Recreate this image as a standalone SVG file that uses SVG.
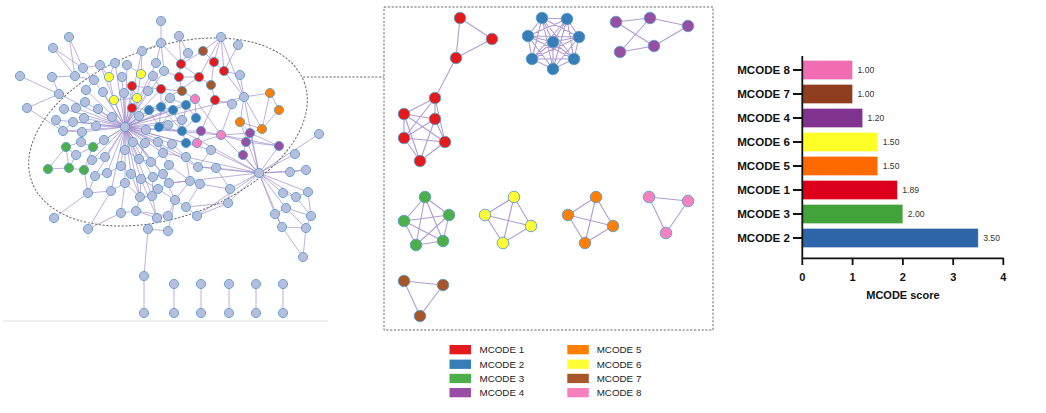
<svg xmlns="http://www.w3.org/2000/svg" width="1046" height="413" viewBox="0 0 1046 413">
<style>
.e{stroke:#9b85c6;stroke-opacity:.72;stroke-width:.9;fill:none}
.me{stroke:#a38bc9;stroke-opacity:.85;stroke-width:1.1;fill:none}
circle{stroke:#5d9fcb;stroke-width:.9}
#network-nodes circle{r:4.6px}
.g{fill:#b7bedd}.r{fill:#e41a1c}.b{fill:#377eb8}.gr{fill:#4daf4a}.p{fill:#984ea3}.o{fill:#ff7f00}.y{fill:#ffff33}.br{fill:#a65628}.pk{fill:#f781bf}
.lt{font-family:"Liberation Sans",Arial,sans-serif;font-size:9.8px;fill:#222}
.yl{font-family:"Liberation Sans",Arial,sans-serif;font-size:11.6px;font-weight:bold;fill:#111;text-anchor:end}
.vl{font-family:"Liberation Sans",Arial,sans-serif;font-size:8.6px;fill:#333}
.tl{font-family:"Liberation Sans",Arial,sans-serif;font-size:11px;font-weight:bold;fill:#111;text-anchor:middle}
.ax{stroke:#111;stroke-width:1.8;fill:none}
.bar{stroke:#fff;stroke-opacity:.5;stroke-width:.6}
</style>
<rect width="1046" height="413" fill="#fff"/>
<line x1="3" y1="321" x2="328" y2="321" stroke="#f0f0f0" stroke-width="2"/>
<g id="connectors">
<path class="e" d="M125 127L142 51M125 127L100 65M125 127L115 63M125 127L127 65M125 127L122 77M125 127L94 80M125 127L86 90M125 127L103 92M125 127L124 93M125 127L85 102M125 127L59 94M125 127L64 109M125 127L76 108M125 127L98 109M125 127L112 117M125 127L84 118M125 127L73 122M125 127L56 120M125 127L96 126M125 127L63 131M125 127L82 132M125 127L104 140M125 127L93 147M125 127L105 157M125 127L92 160M125 127L121 166M125 127L125 150M125 127L133 142M125 127L145 143M125 127L158 142M125 127L139 159M125 127L151 162M125 127L131 174M125 127L141 179M125 127L153 177M125 127L163 174M125 127L169 183M125 127L140 197M125 127L152 196M125 127L125 183M125 127L139 116M125 127L146 130M125 127L148 91M125 127L161 89M125 127L132 108M125 127L149 110M125 127L168 125M125 127L182 120M125 127L163 153M125 127L186 157M125 127L211 150M125 127L221 135M125 127L244 97M125 127L161 107M125 127L173 110M125 127L137 98M125 127L114 100M125 127L132 86M125 127L153 76M125 127L164 71M125 127L156 63M125 127L199 77M125 127L186 105M125 127L195 99M125 127L182 131M125 127L186 143M125 127L172 144M125 127L198 167M125 127L107 173M125 127L111 191M125 127L95 176"/>
<path class="e" d="M161 21L161 43M161 43L156 63M161 43L142 51M161 43L181 64M161 43L164 71M179 36L181 64M179 36L188 53M221 37L203 51M221 37L214 62M221 37L224 71M221 37L199 77M221 37L244 97M238 45L224 71M203 51L214 62M203 51L181 64M188 53L181 64M181 64L179 77M181 64L199 77M179 77L199 77M179 77L182 91M199 77L211 85M214 62L224 71M214 62L211 85M224 71L244 97M211 85L215 100M182 91L195 99M182 91L161 89M161 89L161 107M164 71L179 77M153 76L161 89M142 51L141 74M127 65L141 74M115 63L109 77M100 65L109 77M83 68L100 65M69 37L83 68M69 37L75 76M53 48L83 68M53 48L75 76M52 77L75 76M20 76L59 94M75 76L94 80M83 68L94 80M94 80L86 90M27 108L59 94M27 108L63 131M56 120L63 131M132 86L137 98M132 86L161 89M132 108L149 110M137 98L114 100M141 74L137 98M109 77L114 100M240 75L244 97M240 75L224 71M170 98L161 107M170 98L186 105M232 104L215 100M52 77L59 94"/>
<path class="e" d="M149 110L161 107M161 107L173 110M173 110L186 105M186 105L196 118M149 110L159 127M161 107L159 127M173 110L182 131M159 127L182 131M182 131L186 143M196 118L182 131M186 105L182 131M173 110L159 127M161 107L182 131M195 99L221 135M221 135L250 133M221 135L246 142M201 131L197 143M201 131L221 135M197 143L221 135M182 131L201 131M215 100L201 131M232 104L221 135M244 97L262 129M244 97L270 93M244 97L240 122M270 93L279 110M270 93L262 129M279 110L262 129M240 122L262 129M240 122L250 133M250 133L246 142M246 142L243 155M250 133L279 146M246 142L279 146M262 129L250 133M221 135L279 146M232 104L244 97M196 118L195 99M186 143L197 143"/>
<path class="e" d="M125 150L139 159M139 159L151 162M151 162L163 153M163 153L186 157M186 157L198 167M198 167L216 168M163 153L169 165M169 165L163 174M163 174L169 183M169 183L190 181M190 181L200 184M200 184L230 189M131 174L141 179M141 179L153 177M153 177L163 174M141 179L140 197M140 197L152 196M152 196L158 189M158 189L175 200M175 200L186 207M186 207L197 216M125 183L140 197M111 191L125 183M140 197L136 211M136 211L157 218M152 196L157 218M157 218L168 216M168 216L175 200M157 218L148 229M148 229L168 231M121 213L136 211M168 231L175 200M158 189L169 183M141 179L158 189M153 177L152 196M131 174L140 197M121 166L131 174M107 173L121 166M95 176L107 173M169 165L190 181M186 157L190 181M172 144L186 157M211 150L198 167M216 168L230 189M228 203L186 207M230 189L228 203M197 216L228 203M172 144L163 153M158 142L163 153M145 143L139 159M133 142L125 150M200 184L186 207M190 181L175 200M136 211L168 216M141 179L157 218M163 174L175 200"/>
<path class="e" d="M63 131L82 132M82 132L81 142M81 142L66 147M81 142L93 147M66 147L76 155M76 155L93 147M48 169L66 147M48 169L69 168M69 168L84 170M66 147L69 168M93 147L84 170M84 170L92 160M92 160L105 157M76 155L69 168M104 140L93 147M84 118L96 126M73 122L63 131M88 193L84 170M88 193L54 218M88 193L111 191M88 229L111 191M88 229L121 213M121 213L125 183M95 176L88 193"/>
<path class="e" d="M259 173L319 134M259 173L295 154M259 173L290 172M259 173L306 170M259 173L283 193M259 173L296 197M259 173L308 192M259 173L286 208M259 173L275 214M259 173L282 227M259 173L230 189M259 173L228 203M259 173L243 155M259 173L279 146M259 173L250 133M259 173L211 150M259 173L186 157M259 173L198 167M259 173L216 168M259 173L197 216M259 173L244 97M259 173L221 135M259 173L240 122M259 173L169 183M259 173L182 131M283 193L296 197M296 197L308 192M308 192L311 216M286 208L311 216M275 214L282 227M282 227L306 228M306 228L311 216M306 228L303 257M282 227L303 257M286 208L306 228M296 197L311 216M290 172L306 170M275 214L286 208"/>
<path class="e" d="M148 229L144 276M144 276L144 313M174 284L174 313M201 284L201 313M229 284L229 313M256 284L256 313M283 284L283 313"/>
<path class="me" d="M460 18L492 39M460 18L456 58M492 39L456 58M456 58L435 98M435 98L404 114M435 98L435 119M435 98L404 138M435 98L445 142M404 114L435 119M404 114L404 138M404 114L445 142M404 114L420 161M435 119L404 138M435 119L445 142M435 119L420 161M404 138L445 142M404 138L420 161M445 142L420 161"/>
<path class="me" d="M542 18L567 19M542 18L528 36M542 18L579 37M542 18L553 42M542 18L532 59M542 18L574 59M542 18L553 69M567 19L528 36M567 19L579 37M567 19L553 42M567 19L532 59M567 19L574 59M567 19L553 69M528 36L579 37M528 36L553 42M528 36L532 59M528 36L574 59M528 36L553 69M579 37L553 42M579 37L532 59M579 37L574 59M579 37L553 69M553 42L532 59M553 42L574 59M553 42L553 69M532 59L574 59M532 59L553 69M574 59L553 69"/>
<path class="me" d="M616 22L650 18M650 18L688 26M616 22L654 46M650 18L620 52M688 26L654 46M654 46L620 52"/>
<path class="me" d="M425 197L404 221M425 197L449 215M425 197L416 245M425 197L443 241M404 221L449 215M404 221L443 241M404 221L416 245M449 215L416 245M449 215L443 241M416 245L443 241"/>
<path class="me" d="M514 197L485 215M514 197L531 226M514 197L503 243M485 215L531 226M485 215L503 243M531 226L503 243M596 197L568 215M596 197L613 226M596 197L585 243M568 215L613 226M613 226L585 243M568 215L585 243M649 197L688 201M649 197L666 233M688 201L666 233M404 281L443 285M404 281L420 316M443 285L420 316"/>
</g>
<ellipse cx="168" cy="132" rx="145" ry="85" transform="rotate(-20 168 132)" fill="none" stroke="#6a6a6a" stroke-width="1" stroke-dasharray="2.2 1.6"/>
<line x1="303" y1="77" x2="384" y2="77" stroke="#6a6a6a" stroke-width="1" stroke-dasharray="2.2 1.6"/>
<rect x="384" y="7" width="329" height="323" fill="none" stroke="#6a6a6a" stroke-width="1" stroke-dasharray="2.2 1.6"/>
<g id="network-nodes">
<g class="g">
<circle cx="161" cy="21" r="4.6"/><circle cx="179" cy="36" r="4.6"/><circle cx="221" cy="37" r="4.6"/><circle cx="238" cy="45" r="4.6"/><circle cx="69" cy="37" r="4.6"/><circle cx="53" cy="48" r="4.6"/><circle cx="161" cy="43" r="4.6"/><circle cx="142" cy="51" r="4.6"/><circle cx="188" cy="53" r="4.6"/><circle cx="20" cy="76" r="4.6"/><circle cx="52" cy="77" r="4.6"/><circle cx="75" cy="76" r="4.6"/><circle cx="83" cy="68" r="4.6"/><circle cx="100" cy="65" r="4.6"/><circle cx="115" cy="63" r="4.6"/><circle cx="127" cy="65" r="4.6"/><circle cx="156" cy="63" r="4.6"/><circle cx="240" cy="75" r="4.6"/><circle cx="164" cy="71" r="4.6"/><circle cx="153" cy="76" r="4.6"/><circle cx="122" cy="77" r="4.6"/><circle cx="94" cy="80" r="4.6"/><circle cx="148" cy="91" r="4.6"/><circle cx="124" cy="93" r="4.6"/><circle cx="86" cy="90" r="4.6"/><circle cx="59" cy="94" r="4.6"/><circle cx="103" cy="92" r="4.6"/><circle cx="85" cy="102" r="4.6"/><circle cx="27" cy="108" r="4.6"/><circle cx="64" cy="109" r="4.6"/><circle cx="76" cy="108" r="4.6"/><circle cx="98" cy="109" r="4.6"/><circle cx="170" cy="98" r="4.6"/><circle cx="232" cy="104" r="4.6"/><circle cx="244" cy="97" r="4.6"/><circle cx="182" cy="120" r="4.6"/><circle cx="168" cy="125" r="4.6"/><circle cx="146" cy="130" r="4.6"/><circle cx="139" cy="116" r="4.6"/><circle cx="125" cy="127" r="4.6"/><circle cx="112" cy="117" r="4.6"/><circle cx="84" cy="118" r="4.6"/><circle cx="73" cy="122" r="4.6"/><circle cx="56" cy="120" r="4.6"/><circle cx="96" cy="126" r="4.6"/><circle cx="63" cy="131" r="4.6"/><circle cx="82" cy="132" r="4.6"/><circle cx="81" cy="142" r="4.6"/><circle cx="76" cy="155" r="4.6"/><circle cx="92" cy="160" r="4.6"/><circle cx="105" cy="157" r="4.6"/><circle cx="104" cy="140" r="4.6"/><circle cx="133" cy="142" r="4.6"/><circle cx="145" cy="143" r="4.6"/><circle cx="158" cy="142" r="4.6"/><circle cx="172" cy="144" r="4.6"/><circle cx="125" cy="150" r="4.6"/><circle cx="139" cy="159" r="4.6"/><circle cx="163" cy="153" r="4.6"/><circle cx="186" cy="157" r="4.6"/><circle cx="211" cy="150" r="4.6"/><circle cx="121" cy="166" r="4.6"/><circle cx="151" cy="162" r="4.6"/><circle cx="169" cy="165" r="4.6"/><circle cx="198" cy="167" r="4.6"/><circle cx="216" cy="168" r="4.6"/><circle cx="95" cy="176" r="4.6"/><circle cx="107" cy="173" r="4.6"/><circle cx="131" cy="174" r="4.6"/><circle cx="141" cy="179" r="4.6"/><circle cx="153" cy="177" r="4.6"/><circle cx="163" cy="174" r="4.6"/><circle cx="169" cy="183" r="4.6"/><circle cx="190" cy="181" r="4.6"/><circle cx="200" cy="184" r="4.6"/><circle cx="125" cy="183" r="4.6"/><circle cx="111" cy="191" r="4.6"/><circle cx="158" cy="189" r="4.6"/><circle cx="152" cy="196" r="4.6"/><circle cx="140" cy="197" r="4.6"/><circle cx="175" cy="200" r="4.6"/><circle cx="186" cy="207" r="4.6"/><circle cx="230" cy="189" r="4.6"/><circle cx="228" cy="203" r="4.6"/><circle cx="197" cy="216" r="4.6"/><circle cx="88" cy="193" r="4.6"/><circle cx="54" cy="218" r="4.6"/><circle cx="88" cy="229" r="4.6"/><circle cx="121" cy="213" r="4.6"/><circle cx="136" cy="211" r="4.6"/><circle cx="157" cy="218" r="4.6"/><circle cx="168" cy="216" r="4.6"/><circle cx="148" cy="229" r="4.6"/><circle cx="168" cy="231" r="4.6"/><circle cx="259" cy="173" r="4.6"/><circle cx="319" cy="134" r="4.6"/><circle cx="295" cy="154" r="4.6"/><circle cx="290" cy="172" r="4.6"/><circle cx="306" cy="170" r="4.6"/><circle cx="283" cy="193" r="4.6"/><circle cx="296" cy="197" r="4.6"/><circle cx="308" cy="192" r="4.6"/><circle cx="286" cy="208" r="4.6"/><circle cx="275" cy="214" r="4.6"/><circle cx="311" cy="216" r="4.6"/><circle cx="282" cy="227" r="4.6"/><circle cx="306" cy="228" r="4.6"/><circle cx="303" cy="257" r="4.6"/><circle cx="144" cy="276" r="4.6"/><circle cx="144" cy="313" r="4.6"/><circle cx="174" cy="284" r="4.6"/><circle cx="174" cy="313" r="4.6"/><circle cx="201" cy="284" r="4.6"/><circle cx="201" cy="313" r="4.6"/><circle cx="229" cy="284" r="4.6"/><circle cx="229" cy="313" r="4.6"/><circle cx="256" cy="284" r="4.6"/><circle cx="256" cy="313" r="4.6"/><circle cx="283" cy="284" r="4.6"/><circle cx="283" cy="313" r="4.6"/>
</g>
<g class="r"><circle cx="181" cy="64" r="4.6"/><circle cx="214" cy="62" r="4.6"/><circle cx="224" cy="71" r="4.6"/><circle cx="179" cy="77" r="4.6"/><circle cx="199" cy="77" r="4.6"/><circle cx="161" cy="89" r="4.6"/><circle cx="132" cy="86" r="4.6"/><circle cx="132" cy="108" r="4.6"/><circle cx="215" cy="100" r="4.6"/></g>
<g class="y"><circle cx="141" cy="74" r="4.6"/><circle cx="109" cy="77" r="4.6"/><circle cx="137" cy="98" r="4.6"/><circle cx="114" cy="100" r="4.6"/></g>
<g class="br"><circle cx="203" cy="51" r="4.6"/><circle cx="211" cy="85" r="4.6"/><circle cx="182" cy="91" r="4.6"/></g>
<g class="b"><circle cx="149" cy="110" r="4.6"/><circle cx="161" cy="107" r="4.6"/><circle cx="173" cy="110" r="4.6"/><circle cx="186" cy="105" r="4.6"/><circle cx="196" cy="118" r="4.6"/><circle cx="159" cy="127" r="4.6"/><circle cx="182" cy="131" r="4.6"/><circle cx="186" cy="143" r="4.6"/></g>
<g class="pk"><circle cx="195" cy="99" r="4.6"/><circle cx="221" cy="135" r="4.6"/><circle cx="197" cy="143" r="4.6"/></g>
<g class="p"><circle cx="201" cy="131" r="4.6"/><circle cx="250" cy="133" r="4.6"/><circle cx="246" cy="142" r="4.6"/><circle cx="279" cy="146" r="4.6"/><circle cx="243" cy="155" r="4.6"/></g>
<g class="o"><circle cx="270" cy="93" r="4.6"/><circle cx="279" cy="110" r="4.6"/><circle cx="240" cy="122" r="4.6"/><circle cx="262" cy="129" r="4.6"/></g>
<g class="gr"><circle cx="66" cy="147" r="4.6"/><circle cx="93" cy="147" r="4.6"/><circle cx="48" cy="169" r="4.6"/><circle cx="69" cy="168" r="4.6"/><circle cx="84" cy="170" r="4.6"/></g>
</g>
<g id="mcode1-cluster" class="r"><circle cx="460" cy="18" r="5.8"/><circle cx="492" cy="39" r="5.8"/><circle cx="456" cy="58" r="5.8"/><circle cx="435" cy="98" r="5.8"/><circle cx="404" cy="114" r="5.8"/><circle cx="435" cy="119" r="5.8"/><circle cx="404" cy="138" r="5.8"/><circle cx="445" cy="142" r="5.8"/><circle cx="420" cy="161" r="5.8"/></g>
<g id="mcode2-cluster" class="b"><circle cx="542" cy="18" r="5.8"/><circle cx="567" cy="19" r="5.8"/><circle cx="528" cy="36" r="5.8"/><circle cx="579" cy="37" r="5.8"/><circle cx="553" cy="42" r="5.8"/><circle cx="532" cy="59" r="5.8"/><circle cx="574" cy="59" r="5.8"/><circle cx="553" cy="69" r="5.8"/></g>
<g id="mcode4-cluster" class="p"><circle cx="616" cy="22" r="5.8"/><circle cx="650" cy="18" r="5.8"/><circle cx="688" cy="26" r="5.8"/><circle cx="654" cy="46" r="5.8"/><circle cx="620" cy="52" r="5.8"/></g>
<g id="mcode3-cluster" class="gr"><circle cx="425" cy="197" r="5.8"/><circle cx="449" cy="215" r="5.8"/><circle cx="404" cy="221" r="5.8"/><circle cx="443" cy="241" r="5.8"/><circle cx="416" cy="245" r="5.8"/></g>
<g id="mcode6-cluster" class="y"><circle cx="514" cy="197" r="5.8"/><circle cx="485" cy="215" r="5.8"/><circle cx="531" cy="226" r="5.8"/><circle cx="503" cy="243" r="5.8"/></g>
<g id="mcode5-cluster" class="o"><circle cx="596" cy="197" r="5.8"/><circle cx="568" cy="215" r="5.8"/><circle cx="613" cy="226" r="5.8"/><circle cx="585" cy="243" r="5.8"/></g>
<g id="mcode8-cluster" class="pk"><circle cx="649" cy="197" r="5.8"/><circle cx="688" cy="201" r="5.8"/><circle cx="666" cy="233" r="5.8"/></g>
<g id="mcode7-cluster" class="br"><circle cx="404" cy="281" r="5.8"/><circle cx="443" cy="285" r="5.8"/><circle cx="420" cy="316" r="5.8"/></g>
<g id="legend">
<rect x="449.5" y="345" width="21.5" height="9.3" fill="#e41a1c"/><text class="lt" x="479.5" y="353.2">MCODE 1</text>
<rect x="449.5" y="359.6" width="21.5" height="9.3" fill="#377eb8"/><text class="lt" x="479.5" y="367.8">MCODE 2</text>
<rect x="449.5" y="373.8" width="21.5" height="9.3" fill="#4daf4a"/><text class="lt" x="479.5" y="382">MCODE 3</text>
<rect x="449.5" y="388" width="21.5" height="9.3" fill="#984ea3"/><text class="lt" x="479.5" y="396.2">MCODE 4</text>
<rect x="567.3" y="345" width="21.5" height="9.3" fill="#ff7f00"/><text class="lt" x="596.7" y="353.2">MCODE 5</text>
<rect x="567.3" y="359.6" width="21.5" height="9.3" fill="#ffff33"/><text class="lt" x="596.7" y="367.8">MCODE 6</text>
<rect x="567.3" y="373.8" width="21.5" height="9.3" fill="#a65628"/><text class="lt" x="596.7" y="382">MCODE 7</text>
<rect x="567.3" y="388" width="21.5" height="9.3" fill="#f781bf"/><text class="lt" x="596.7" y="396.2">MCODE 8</text>
</g>
<g id="bar-chart">
<rect class="bar" x="802.3" y="60.5" width="50.2" height="19" fill="#f06cb3"/>
<rect class="bar" x="802.3" y="84.5" width="50.2" height="19" fill="#8f3f1f"/>
<rect class="bar" x="802.3" y="108.5" width="60.3" height="19" fill="#80348f"/>
<rect class="bar" x="802.3" y="132.5" width="75.4" height="19" fill="#ffff28"/>
<rect class="bar" x="802.3" y="156.5" width="75.4" height="19" fill="#ff6a00"/>
<rect class="bar" x="802.3" y="180.5" width="95" height="19" fill="#dc001a"/>
<rect class="bar" x="802.3" y="204.5" width="100.5" height="19" fill="#41a33a"/>
<rect class="bar" x="802.3" y="228.5" width="175.9" height="19" fill="#2e65a8"/>
<path class="ax" d="M802.3 56V258.3H1003.8M802.3 258.3V265M852.6 258.3V265M902.9 258.3V265M953.2 258.3V265M1003.3 258.3V265M793 70H802.3M793 94H802.3M793 118H802.3M793 142H802.3M793 166H802.3M793 190H802.3M793 214H802.3M793 238H802.3"/>
<text class="yl" x="790" y="74.2">MCODE 8</text>
<text class="yl" x="790" y="98.2">MCODE 7</text>
<text class="yl" x="790" y="122.2">MCODE 4</text>
<text class="yl" x="790" y="146.2">MCODE 6</text>
<text class="yl" x="790" y="170.2">MCODE 5</text>
<text class="yl" x="790" y="194.2">MCODE 1</text>
<text class="yl" x="790" y="218.2">MCODE 3</text>
<text class="yl" x="790" y="242.2">MCODE 2</text>
<text class="vl" x="857.5" y="73.2">1.00</text>
<text class="vl" x="857.5" y="97.2">1.00</text>
<text class="vl" x="867.6" y="121.2">1.20</text>
<text class="vl" x="882.7" y="145.2">1.50</text>
<text class="vl" x="882.7" y="169.2">1.50</text>
<text class="vl" x="902.3" y="193.2">1.89</text>
<text class="vl" x="907.8" y="217.2">2.00</text>
<text class="vl" x="983.2" y="241.2">3.50</text>
<text class="tl" x="802.3" y="280.5">0</text>
<text class="tl" x="852.6" y="280.5">1</text>
<text class="tl" x="902.9" y="280.5">2</text>
<text class="tl" x="953.2" y="280.5">3</text>
<text class="tl" x="1003.3" y="280.5">4</text>
<text class="tl" x="902.9" y="299">MCODE score</text>
</g>
</svg>
